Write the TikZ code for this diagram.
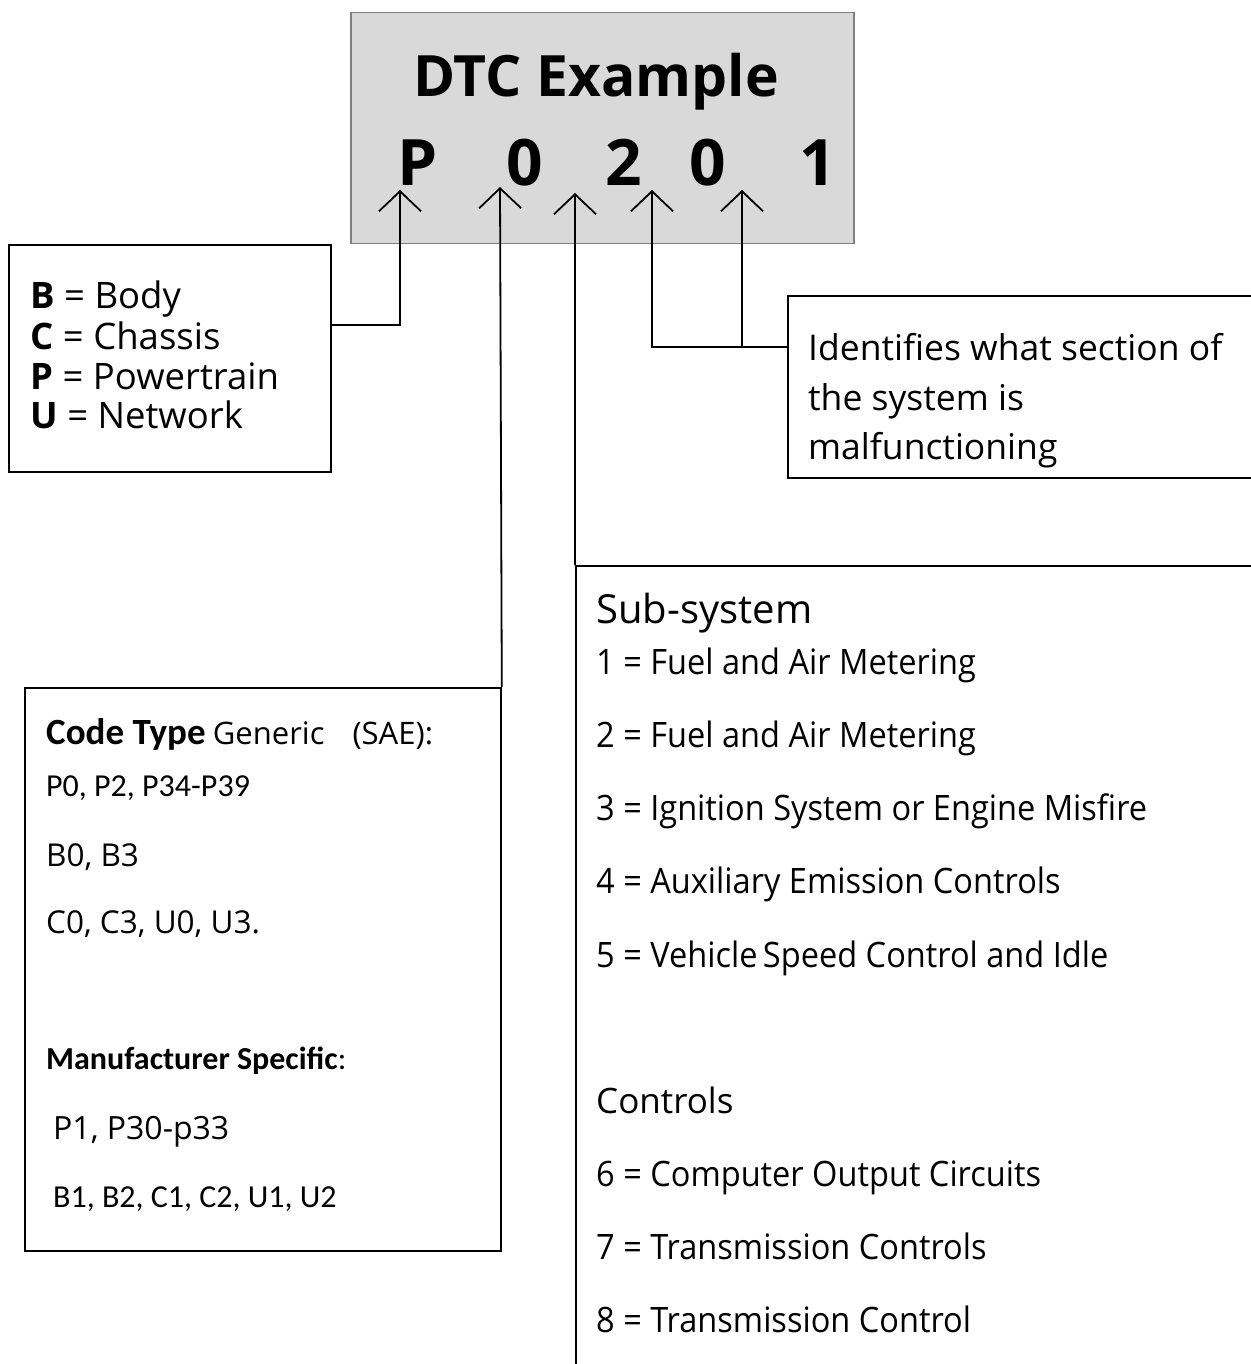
\documentclass[tikz,border=0pt]{standalone}
\usepackage{fontspec}
\setmainfont{Open Sans}
\newfontfamily\calib{Carlito}
\newfontfamily\narrowsans[FakeStretch=0.93]{Open Sans}
\usetikzlibrary{arrows.meta}
\definecolor{boxgray}{HTML}{D9D9D9}
\definecolor{edgegray}{HTML}{7F7F7F}
\begin{document}
\begin{tikzpicture}[x=1pt,y=-1pt,
  frame/.style={draw=black,line width=1.8pt,inner sep=0pt,anchor=north west},
  conn/.style={draw=black,line width=1.8pt,-{Straight Barb[length=20pt,width=42pt,line width=1.8pt]}},
  txt/.style={anchor=base west,inner sep=0pt,font=\fontsize{36}{40}\selectfont},
  item/.style={anchor=base west,inner sep=0pt,font=\narrowsans\fontsize{35}{40}\selectfont},
  ctxt/.style={anchor=base west,inner sep=0pt,font=\calib\fontsize{32}{36}\selectfont},
  otxt/.style={anchor=base west,inner sep=0pt,font=\fontsize{31.5}{34}\selectfont},
  digit/.style={anchor=base,inner sep=0pt,font=\bfseries\fontsize{64}{70}\selectfont}]
\useasboundingbox (0,0) rectangle (1250,1364);
\fill[white] (0,0) rectangle (1250,1364);

% header box
\node[frame,draw=edgegray,line width=1.5pt,fill=boxgray,minimum width=503,minimum height=231] (hdr) at (350,12) {};
\node[anchor=base,inner sep=0pt,font=\bfseries\fontsize{57}{62}\selectfont] (title) at (596,97) {DTC Example};
\node[digit] (dP) at (418,186) {P};
\node[digit] (d0a) at (525,186) {0};
\node[digit] (d2) at (624,186) {2};
\node[digit] (d0b) at (708,186) {0};
\node[digit] (d1) at (818,186) {1};

% boxes
\node[frame,minimum width=322,minimum height=227] (bodybox) at (8,244) {};
\node[frame,minimum width=480,minimum height=182] (secbox) at (787,295) {};
\node[frame,minimum width=690,minimum height=820] (subbox) at (575,565) {};
\node[frame,minimum width=476,minimum height=563] (codebox) at (24,687) {};

% tips and elbows
\coordinate (tipP) at (400,190);
\coordinate (tip0) at (500,187);
\coordinate (tip2) at (575,193);
\coordinate (tipA) at (652,190);
\coordinate (tipB) at (742,190);
\coordinate (elbP) at (400,325);
\coordinate (elbA) at (652,347);
\coordinate (elbB) at (742,347);

\draw[conn] (bodybox.east |- elbP) -- (elbP) -- (tipP);
\draw[conn] (codebox.north east) -- (tip0);
\draw[conn] (subbox.north west) -- (tip2);
\draw[conn] (secbox.west |- elbA) -- (elbA) -- (tipA);
\draw[conn] (elbB) -- (tipB);

% body box text
\node[txt,font=\fontsize{36.5}{40}\selectfont] (tB) at (30,308) {\textbf{B} = Body};
\node[txt,font=\fontsize{36.5}{40}\selectfont] (tC) at (30,349) {\textbf{C} = Chassis};
\node[txt,font=\fontsize{36.5}{40}\selectfont] (tPw) at (30,389) {\textbf{P} = Powertrain};
\node[txt,font=\fontsize{36.5}{40}\selectfont] (tU) at (30,428) {\textbf{U} = Network};

% section text
\node[txt,font=\fontsize{35.5}{40}\selectfont] (s1) at (808,360) {Identifies what section of};
\node[txt,font=\fontsize{35.5}{40}\selectfont] (s2) at (808,410) {the system is};
\node[txt,font=\fontsize{35.5}{40}\selectfont] (s3) at (808,459) {malfunctioning};

% subsystem text
\node[txt,font=\fontsize{40}{44}\selectfont] (subt) at (596,623) {Sub-system};
\node[item] (i1) at (596,674) {1 = Fuel and Air Metering};
\node[item] (i2) at (596,747) {2 = Fuel and Air Metering};
\node[item] (i3) at (596,820) {3 = Ignition System or Engine Misfire};
\node[item] (i4) at (596,893) {4 = Auxiliary Emission Controls};
\node[item] (i5) at (596,967) {5 = Vehicle\hspace{-3pt} Speed Control and Idle};
\node[txt,font=\fontsize{35}{40}\selectfont] (ctl) at (596,1113) {Controls};
\node[item] (i6) at (596,1186) {6 = Computer Output Circuits};
\node[item] (i7) at (596,1259) {7 = Transmission Controls};
\node[item] (i8) at (596,1332) {8 = Transmission Control};

% code type text
\node[ctxt] (c1) at (46,744) {{\fontsize{37}{40}\selectfont\textbf{Code Type}} {\normalfont\fontsize{31}{34}\selectfont Generic\hspace{28pt}(SAE):}};
\node[ctxt] (c2) at (46,796) {P0, P2, P34-P39};
\node[otxt] (c3) at (46,866) {B0, B3};
\node[otxt] (c4) at (46,933) {C0, C3, U0, U3.};
\node[ctxt] (c5) at (46,1069) {\textbf{Manufacturer Specific}:};
\node[otxt,font=\fontsize{32}{36}\selectfont] (c6) at (53,1139) {P1, P30-p33};
\node[ctxt] (c7) at (53,1207) {B1, B2, C1, C2, U1, U2};
\end{tikzpicture}
\end{document}
